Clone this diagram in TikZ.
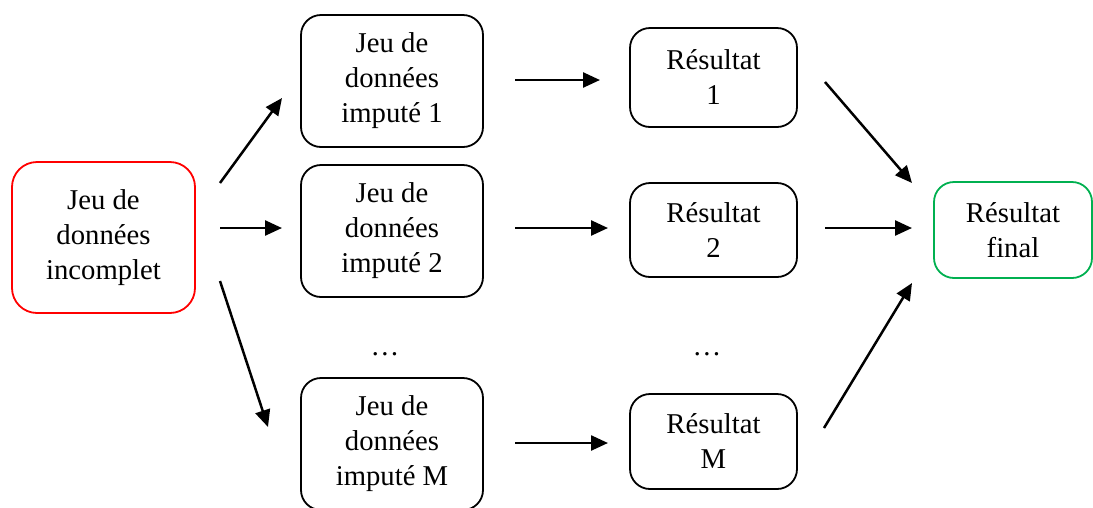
\documentclass[tikz,border=0pt]{standalone}
\usepackage{fontspec}
\setmainfont{Liberation Serif}
\usetikzlibrary{arrows.meta}
\definecolor{incred}{RGB}{255,0,0}
\definecolor{fingreen}{RGB}{0,176,80}
\tikzstyle{box}=[draw, rounded corners=20pt, line width=1.8pt, align=center, inner sep=0,
                 font=\fontsize{28.7}{35}\selectfont]
\tikzstyle{dbox}=[box, minimum width=182pt, minimum height=132pt]
\tikzstyle{rbox}=[box, minimum width=167pt, minimum height=96pt]
\tikzstyle{flow}=[line width=2.5pt, -{Triangle[length=17pt, width=15pt]}]

\begin{document}
\begin{tikzpicture}[x=1pt, y=-1pt]
        \useasboundingbox (0,0) rectangle (1093,507);
        % Boxes.
        \node[box, draw=incred, rounded corners=25pt, minimum width=183pt, minimum height=151pt]
                                                (Inc) at (103.5,237.5) {Jeu de\\données\\incomplet};
        \node[dbox]                             (D1) at (392,81) {Jeu de\\données\\imputé 1};
        \node[dbox]                             (D2) at (392,231) {Jeu de\\données\\imputé 2};
        \node[dbox]                             (DM) at (392,444) {Jeu de\\données\\imputé M};
        \node[rbox, minimum height=99pt]        (R1) at (713.5,77.5) {Résultat\\1};
        \node[rbox, minimum height=94pt]        (R2) at (713.5,230) {Résultat\\2};
        \node[rbox, minimum height=95pt]        (RM) at (713.5,441.5) {Résultat\\M};
        \node[box, draw=fingreen, minimum width=158pt, minimum height=96pt]
                                                (Fin) at (1013,230) {Résultat\\final};
        \node[font=\fontsize{28.7}{35}\selectfont] (Ddots) at (385,354) {…};
        \node[font=\fontsize{28.7}{35}\selectfont] (Rdots) at (707,354) {…};
        % Arrow ends.
        \coordinate (a1) at (220,183);  \coordinate (b1) at (282,98);
        \coordinate (a2) at (220,228);  \coordinate (b2) at (282,228);
        \coordinate (a3) at (220,281);  \coordinate (b3) at (268,427);
        \coordinate (c1) at (515,80);   \coordinate (e1) at (600,80);
        \coordinate (c2) at (515,228);  \coordinate (e2) at (608,228);
        \coordinate (c3) at (515,443);  \coordinate (e3) at (608,443);
        \coordinate (f1) at (825,82);   \coordinate (g1) at (912,183);
        \coordinate (f2) at (825,228);  \coordinate (g2) at (912,228);
        \coordinate (f3) at (824,428);  \coordinate (g3) at (912,283);
        \draw[flow] (a1) -- (b1);
        \draw[flow] (a2) -- (b2);
        \draw[flow] (a3) -- (b3);
        \draw[flow] (c1) -- (e1);
        \draw[flow] (c2) -- (e2);
        \draw[flow] (c3) -- (e3);
        \draw[flow] (f1) -- (g1);
        \draw[flow] (f2) -- (g2);
        \draw[flow] (f3) -- (g3);
    \end{tikzpicture}
\end{document}
